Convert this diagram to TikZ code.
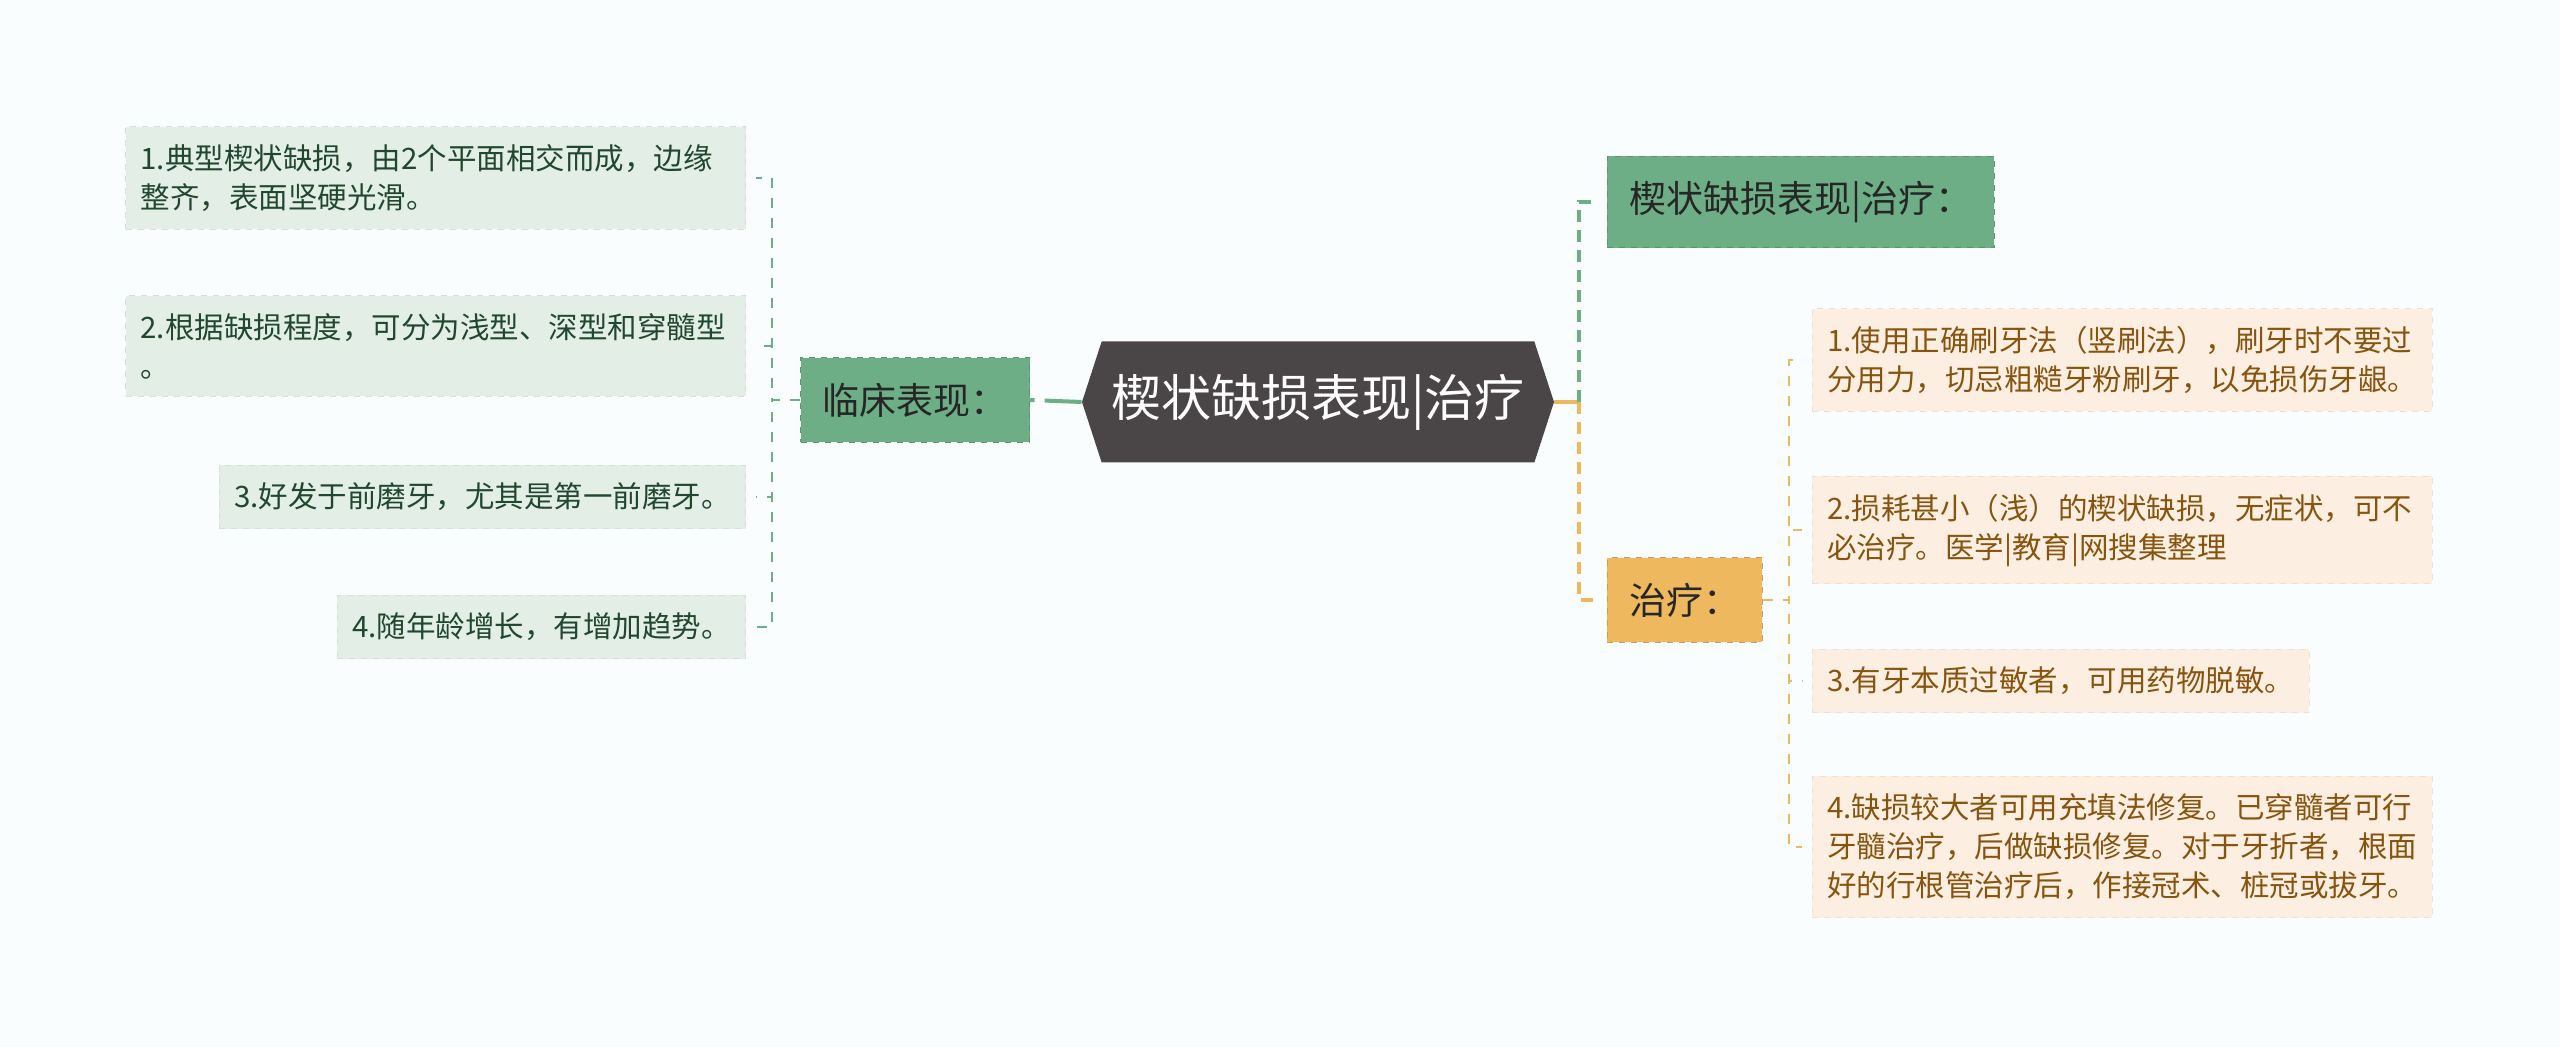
\documentclass[tikz,border=0pt]{standalone}
\usepackage{fontspec}
\setmainfont{Noto Sans CJK SC}
\usetikzlibrary{shapes.symbols, positioning}
\definecolor{PageBg}{HTML}{F9FDFD}
\definecolor{RootFill}{HTML}{4A4546}
\definecolor{MapGreen}{HTML}{6DAE86}
\definecolor{LeafGreen}{HTML}{E3EFE6}
\definecolor{TextGreen}{HTML}{21472E}
\definecolor{MapOrange}{HTML}{EEB95E}
\definecolor{LeafOrange}{HTML}{FCEFE1}
\definecolor{TextBrown}{HTML}{87540F}

\begin{document}
\begin{tikzpicture}[x=0.5pt, y=-0.5pt,
        root/.style={signal, signal to=west and east, signal pointer angle=144, fill=RootFill, text=white,
            minimum width=236pt, minimum height=60.5pt, inner sep=0pt, font=\fontsize{25}{30}\selectfont},
        topic/.style={rectangle, draw=#1!85!black, dashed, fill=#1, text=black!85, inner xsep=11pt, inner ysep=12.5pt,
            font=\fontsize{18.5}{22}\selectfont},
        leaf/.style={rectangle, draw=#1!94!black, dashed, fill=#1, align=left, inner xsep=7.5pt, inner ysep=8.8pt,
            font=\fontsize{14.75}{19.5}\selectfont},
        wide/.style={text width=295pt},
        mainline/.style={line width=2pt},
        leafline/.style={line width=1pt, dash pattern=on 5pt off 5pt, shorten >=5pt}]

    \fill[PageBg] (0,0) rectangle (2560,1047);

    % centre and first level
    \node[root] (root) at (1318,402) {楔状缺损表现|治疗};
    \node[topic=MapGreen, anchor=east] (clinic) at (1030,400) {临床表现：};
    \node[topic=MapGreen, anchor=west] (title) at (1607,202) {楔状缺损表现|治疗：};
    \node[topic=MapOrange, anchor=west] (treat) at (1607,600) {治疗：};

    % clinical signs
    \node[leaf=LeafGreen, wide, text=TextGreen, anchor=east] (c1) at (746,178) {1.典型楔状缺损，由2个平面相交而成，边缘\\整齐，表面坚硬光滑。};
    \node[leaf=LeafGreen, wide, text=TextGreen, anchor=east] (c2) at (746,346) {2.根据缺损程度，可分为浅型、深型和穿髓型\\。};
    \node[leaf=LeafGreen, text=TextGreen, anchor=east] (c3) at (746,497) {3.好发于前磨牙，尤其是第一前磨牙。};
    \node[leaf=LeafGreen, text=TextGreen, anchor=east] (c4) at (746,627) {4.随年龄增长，有增加趋势。};

    % treatment
    \node[leaf=LeafOrange, wide, text=TextBrown, anchor=west] (t1) at (1812,360) {1.使用正确刷牙法（竖刷法），刷牙时不要过\\分用力，切忌粗糙牙粉刷牙，以免损伤牙龈。};
    \node[leaf=LeafOrange, wide, text=TextBrown, anchor=west] (t2) at (1812,530) {2.损耗甚小（浅）的楔状缺损，无症状，可不\\必治疗。医学|教育|网搜集整理};
    \node[leaf=LeafOrange, text=TextBrown, anchor=west] (t3) at (1812,681) {3.有牙本质过敏者，可用药物脱敏。};
    \node[leaf=LeafOrange, wide, text=TextBrown, anchor=west] (t4) at (1812,847) {4.缺损较大者可用充填法修复。已穿髓者可行\\牙髓治疗，后做缺损修复。对于牙折者，根面\\好的行根管治疗后，作接冠术、桩冠或拔牙。};

    \coordinate (rfork) at (1579,402);

    \draw[mainline, MapGreen, dash pattern=on 18.5pt off 5pt on 5pt off 10pt] (root.west) -- (clinic.east);
    \draw[mainline, MapOrange] (root.east) -- (rfork);
    \draw[mainline, MapGreen, dash pattern=on 6pt off 4pt, shorten >=4.5pt] (rfork) |- (title.west);
    \draw[mainline, MapOrange, dash pattern=on 6pt off 4pt, shorten >=4.5pt] (rfork) |- (treat.west);

    \foreach \n in {c1,c2,c3,c4}
        \draw[leafline, MapGreen] (clinic.west) -- ++(-14pt,0) |- (\n.east);
    \foreach \n in {t1,t2,t3,t4}
        \draw[leafline, MapOrange] (treat.east) -- ++(13pt,0) |- (\n.west);
\end{tikzpicture}
\end{document}
